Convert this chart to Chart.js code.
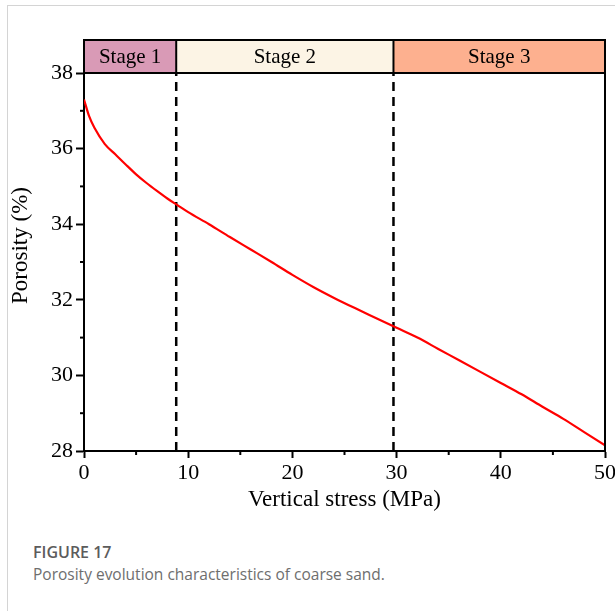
<!DOCTYPE html>
<html>
<head>
<meta charset="utf-8">
<script src="https://cdn.jsdelivr.net/npm/chart.js@4.4.1/dist/chart.umd.min.js"></script>
<style>
  html, body { margin: 0; padding: 0; background: #fff; }
  body { width: 615px; height: 611px; position: relative; overflow: hidden; }
  #frame {
    position: absolute; left: 7px; top: 5px; right: -2px; bottom: -2px;
    border-left: 1px solid #d4d4d4; border-top: 1px solid #d4d4d4;
  }
  #chartBox { position: absolute; left: 0; top: 0; width: 615px; height: 530px; }
  #caption { position: absolute; left: 33px; top: 541px; font-family: "Open Sans", sans-serif; }
  #caption .fig { font-size: 16px; font-weight: 600; color: #5c5c5c; }
  #caption .txt { font-size: 15.5px; color: #6e6e6e; margin-top: 0px; }
</style>
</head>
<body>
<div id="frame"></div>
<div id="chartBox"><canvas id="chart"></canvas></div>
<div id="caption">
  <div class="fig">FIGURE 17</div>
  <div class="txt">Porosity evolution characteristics of coarse sand.</div>
</div>
<script>
// Vertical stress (MPa) and porosity (%)
const stress = [0, 0.5, 1, 2, 3, 4, 5, 6, 7, 8, 9, 10, 12, 14, 16, 18, 20, 22, 24, 26, 28, 30, 32, 34, 36, 38, 40, 42, 44, 46, 48, 50];
const porosity = [37.3, 36.85, 36.55, 36.12, 35.85, 35.58, 35.32, 35.09, 34.88, 34.68, 34.5, 34.32, 34.0, 33.66, 33.33, 33.0, 32.66, 32.34, 32.05, 31.78, 31.52, 31.26, 31.0, 30.7, 30.4, 30.1, 29.8, 29.5, 29.17, 28.85, 28.5, 28.15];

// stage boundaries (MPa)
const stageBounds = [0, 8.85, 29.7, 50];
const stageLabels = ["Stage 1", "Stage 2", "Stage 3"];
const stageColors = ["#d99ab6", "#fcf4e5", "#fdb08f"];

const xMinorTicks = [5, 15, 25, 35, 45];
const yMinorTicks = [29, 31, 33, 35, 37];

const serif = '"Liberation Serif", "Times New Roman", serif';

// stage dividers as dashed vertical lines
const dividerSets = stageBounds.slice(1, -1).map((b) => ({
  data: [{ x: b, y: 28 }, { x: b, y: 38 }],
  borderColor: "#000",
  borderWidth: 2.5,
  borderDash: [9, 6],
  pointRadius: 0,
  fill: false,
}));

const stagePlugin = {
  id: "stages",
  afterDraw(chart) {
    const { ctx, chartArea, scales } = chart;
    const x = scales.x;
    const y = scales.y;
    const top = 40;
    const bottom = chartArea.top;
    ctx.save();

    // stage band on top
    for (let i = 0; i < stageLabels.length; i++) {
      const x0 = x.getPixelForValue(stageBounds[i]);
      const x1 = x.getPixelForValue(stageBounds[i + 1]);
      ctx.fillStyle = stageColors[i];
      ctx.fillRect(x0, top, x1 - x0, bottom - top);
      ctx.fillStyle = "#000";
      ctx.font = "21px " + serif;
      ctx.textAlign = "center";
      ctx.textBaseline = "middle";
      ctx.fillText(stageLabels[i], (x0 + x1) / 2, (top + bottom) / 2 + 1);
    }
    ctx.strokeStyle = "#000";
    ctx.lineWidth = 2;
    ctx.strokeRect(chartArea.left, top, chartArea.right - chartArea.left, bottom - top);
    for (let i = 1; i < stageBounds.length - 1; i++) {
      const px = x.getPixelForValue(stageBounds[i]);
      ctx.beginPath();
      ctx.moveTo(px, top);
      ctx.lineTo(px, bottom);
      ctx.stroke();
    }

    // right frame line
    ctx.beginPath();
    ctx.moveTo(chartArea.right, chartArea.top);
    ctx.lineTo(chartArea.right, chartArea.bottom);
    ctx.stroke();

    // minor ticks
    ctx.lineWidth = 2;
    xMinorTicks.forEach((v) => {
      const px = x.getPixelForValue(v);
      ctx.beginPath();
      ctx.moveTo(px, chartArea.bottom);
      ctx.lineTo(px, chartArea.bottom + 4);
      ctx.stroke();
    });
    yMinorTicks.forEach((v) => {
      const py = y.getPixelForValue(v);
      ctx.beginPath();
      ctx.moveTo(chartArea.left, py);
      ctx.lineTo(chartArea.left - 4, py);
      ctx.stroke();
    });

    // y axis title, centred on plot plus band
    ctx.translate(21, (top + chartArea.bottom) / 2);
    ctx.rotate(-Math.PI / 2);
    ctx.fillStyle = "#000";
    ctx.font = "23px " + serif;
    ctx.textAlign = "center";
    ctx.textBaseline = "middle";
    ctx.fillText("Porosity (%)", 0, 0);
    ctx.restore();
  },
};

new Chart(document.getElementById("chart"), {
  type: "line",
  data: {
    datasets: [
      {
        data: stress.map((s, i) => ({ x: s, y: porosity[i] })),
        borderColor: "#ff0000",
        borderWidth: 2.2,
        pointRadius: 0,
        cubicInterpolationMode: "monotone",
        fill: false,
      },
      ...dividerSets,
    ],
  },
  options: {
    responsive: true,
    maintainAspectRatio: false,
    animation: false,
    layout: { padding: { top: 73, right: 10, left: 0, bottom: 0 } },
    plugins: {
      legend: { display: false },
      tooltip: { enabled: false },
    },
    scales: {
      x: {
        type: "linear",
        min: 0,
        max: 50,
        ticks: {
          stepSize: 10,
          color: "#000",
          padding: 2,
          font: { family: serif, size: 22 },
          maxRotation: 0,
        },
        grid: { drawOnChartArea: false, tickLength: 7, tickWidth: 2, tickColor: "#000" },
        border: { color: "#000", width: 2 },
        title: {
          display: true,
          text: "Vertical stress (MPa)",
          color: "#000",
          font: { family: serif, size: 23 },
          padding: { top: 0, bottom: 16 },
        },
        afterFit(s) {
          s.height = 79;
          s.paddingLeft = 0;
          s.paddingRight = 0;
        },
      },
      y: {
        min: 28,
        max: 38,
        ticks: {
          stepSize: 2,
          color: "#000",
          padding: 3,
          font: { family: serif, size: 22 },
        },
        grid: { drawOnChartArea: false, tickLength: 8, tickWidth: 2, tickColor: "#000" },
        border: { color: "#000", width: 2 },
        afterFit(s) {
          s.width = 84;
        },
      },
    },
  },
  plugins: [stagePlugin],
});
</script>
</body>
</html>
